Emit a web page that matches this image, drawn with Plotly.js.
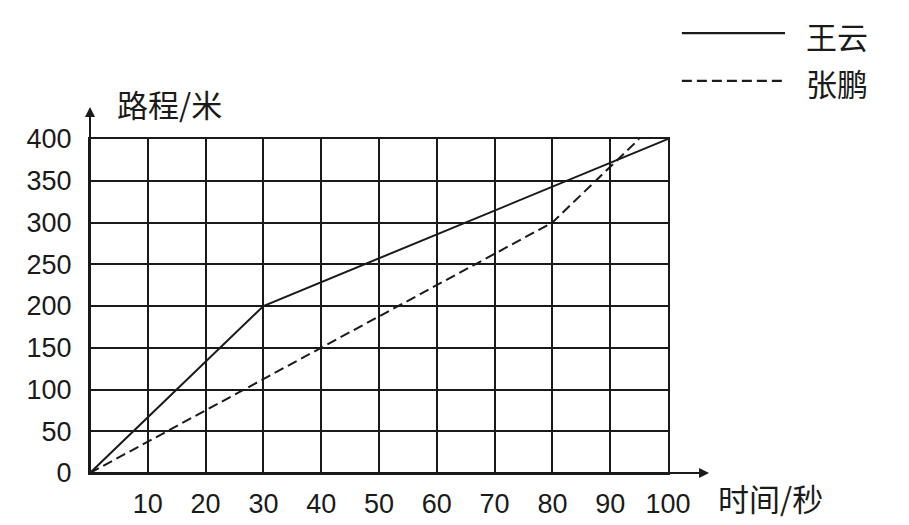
<!DOCTYPE html>
<html>
<head>
<meta charset="utf-8">
<script src="https://cdn.plot.ly/plotly-3.0.1.min.js"></script>
<style>html,body{margin:0;padding:0;background:#fff;}#chart{width:909px;height:525px;}</style>
</head>
<body>
<div id="chart"></div>
<script>
// ---- data ----
const seriesNames = ['王云', '张鹏'];
const wangTime = [0, 30, 100];
const wangDist = [0, 200, 400];
const zhangTime = [0, 80, 95];
const zhangDist = [0, 300, 400];
const xTickVals = [10, 20, 30, 40, 50, 60, 70, 80, 90, 100];
const yTickVals = [0, 50, 100, 150, 200, 250, 300, 350, 400];
const xTitle = '时间/秒';
const yTitle = '路程/米';

const ink = '#1a1a1a';
const numFont = {family: 'Liberation Sans, Arial, sans-serif', size: 27, color: ink};
const cjkFont = {family: 'Noto Sans CJK SC, sans-serif', size: 31, color: ink};
const dashStyle = '10px,5px';

const styles = [
  {color: ink, width: 2, dash: 'solid'},
  {color: ink, width: 2, dash: dashStyle}
];

const traces = [
  {x: wangTime, y: wangDist, name: seriesNames[0], mode: 'lines', line: styles[0], cliponaxis: false},
  {x: zhangTime, y: zhangDist, name: seriesNames[1], mode: 'lines', line: styles[1], cliponaxis: false}
];

// manual legend (lines + labels)
const legendY = [1.317, 1.174];
const shapes = [];
const annotations = [];
seriesNames.forEach((n, i) => {
  shapes.push({type: 'line', xref: 'paper', yref: 'paper', x0: 1.024, x1: 1.2025, y0: legendY[i], y1: legendY[i], line: {color: ink, width: 2.2, dash: styles[i].dash}});
  annotations.push({xref: 'paper', yref: 'paper', x: 1.236, y: legendY[i] - 0.006, xanchor: 'left', yanchor: 'middle', text: n, showarrow: false, font: cjkFont});
});

// axis arrows
annotations.push({xref: 'paper', yref: 'paper', x: 0, y: 1.096, ax: 0, ay: 366, axref: 'pixel', ayref: 'pixel', text: '', showarrow: true, arrowhead: 2, arrowsize: 1, arrowwidth: 2, arrowcolor: ink, standoff: 0});
annotations.push({xref: 'paper', yref: 'paper', x: 1.071, y: 0, ax: -619, ay: 0, axref: 'pixel', ayref: 'pixel', text: '', showarrow: true, arrowhead: 2, arrowsize: 1, arrowwidth: 2, arrowcolor: ink, standoff: 0});

// axis titles
annotations.push({xref: 'paper', yref: 'paper', x: 0.1384, y: 1.105, xanchor: 'center', yanchor: 'middle', text: yTitle, showarrow: false, font: cjkFont});
annotations.push({xref: 'paper', yref: 'paper', x: 1.083, y: -0.072, xanchor: 'left', yanchor: 'middle', text: xTitle, showarrow: false, font: cjkFont});

const layout = {
  width: 909, height: 525,
  margin: {l: 90, r: 241, t: 139, b: 52, pad: 0},
  paper_bgcolor: '#fff', plot_bgcolor: '#fff',
  showlegend: false,
  xaxis: {
    range: [0, 100], tickvals: xTickVals, ticktext: xTickVals.map(String),
    showgrid: true, gridcolor: ink, gridwidth: 2,
    showline: true, linecolor: ink, linewidth: 2, mirror: true,
    zeroline: false, ticks: '', tickfont: numFont, ticklabelstandoff: 6,
    fixedrange: true
  },
  yaxis: {
    range: [0, 400], tickvals: yTickVals, ticktext: yTickVals.map(String),
    showgrid: true, gridcolor: ink, gridwidth: 2,
    showline: true, linecolor: ink, linewidth: 2, mirror: true,
    zeroline: false, ticks: '', tickfont: numFont, ticklabelstandoff: 11,
    fixedrange: true
  },
  shapes: shapes,
  annotations: annotations
};

Plotly.newPlot('chart', traces, layout, {displayModeBar: false, staticPlot: true});
</script>
</body>
</html>
